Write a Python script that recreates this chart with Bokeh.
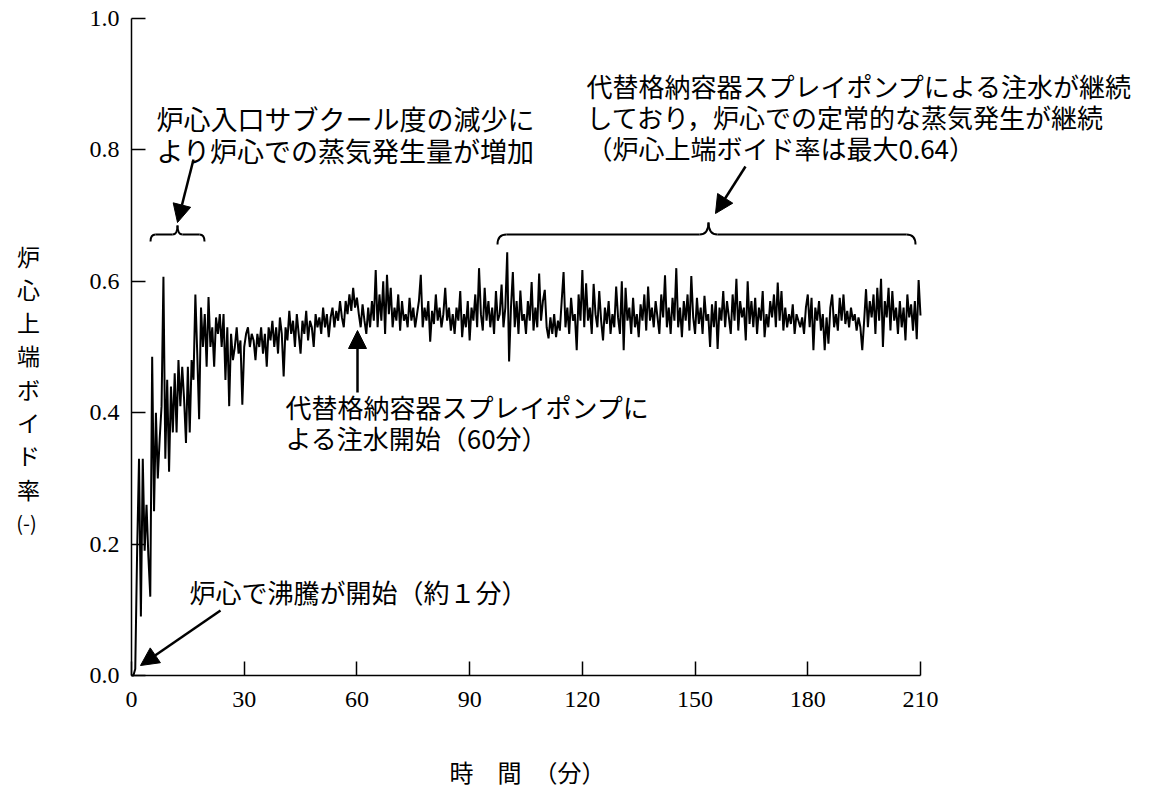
from bokeh.plotting import figure
from bokeh.models import Range1d, FixedTicker, PrintfTickFormatter, Label, Arrow, NormalHead
from bokeh.embed import file_html
from bokeh.resources import INLINE

# ---------------- data ----------------
step_min = 0.5
void_0_30 = [0.0, 0.0, 0.01, 0.19, 0.33, 0.09, 0.33, 0.19, 0.26, 0.18,
             0.12, 0.485, 0.25, 0.40, 0.30, 0.36, 0.41, 0.607, 0.33, 0.45,
             0.31, 0.44, 0.37, 0.46, 0.37, 0.48, 0.41, 0.47, 0.42, 0.354,
             0.47, 0.37, 0.48, 0.45, 0.58, 0.49, 0.39, 0.56, 0.50, 0.55,
             0.47, 0.576, 0.50, 0.53, 0.47, 0.545, 0.52, 0.55, 0.50, 0.55,
             0.45, 0.53, 0.41, 0.52, 0.48, 0.50, 0.53, 0.49, 0.51, 0.412,
             0.50]
void_30_60 = [0.52, 0.53, 0.50, 0.52, 0.51, 0.48, 0.52, 0.50, 0.53, 0.49,
              0.52, 0.47, 0.53, 0.51, 0.54, 0.50, 0.53, 0.49, 0.545, 0.52,
              0.455, 0.53, 0.51, 0.555, 0.52, 0.54, 0.50, 0.55, 0.52, 0.49,
              0.54, 0.52, 0.555, 0.51, 0.54, 0.53, 0.50, 0.55, 0.53, 0.545,
              0.52, 0.56, 0.53, 0.55, 0.515, 0.545, 0.56, 0.53, 0.555, 0.54,
              0.57, 0.545, 0.53, 0.57, 0.55, 0.58, 0.555, 0.59, 0.56, 0.575]
void_60_100 = [0.55, 0.53, 0.565, 0.54, 0.52, 0.56, 0.53, 0.57, 0.54, 0.617,
               0.53, 0.58, 0.54, 0.60, 0.52, 0.61, 0.55, 0.59, 0.53, 0.56,
               0.54, 0.58, 0.525, 0.57, 0.54, 0.55, 0.53, 0.575, 0.54, 0.56,
               0.53, 0.55, 0.57, 0.61, 0.53, 0.56, 0.54, 0.57, 0.508, 0.555,
               0.535, 0.58, 0.54, 0.56, 0.53, 0.55, 0.59, 0.54, 0.56, 0.525,
               0.55, 0.52, 0.56, 0.54, 0.585, 0.515, 0.55, 0.53, 0.57, 0.51,
               0.56, 0.54, 0.58, 0.53, 0.62, 0.55, 0.525, 0.59, 0.54, 0.57,
               0.53, 0.56, 0.52, 0.585, 0.54, 0.55, 0.595, 0.53, 0.56, 0.644]
void_100_150 = [0.478, 0.56, 0.614, 0.53, 0.57, 0.52, 0.586, 0.54, 0.55, 0.52,
                0.57, 0.54, 0.599, 0.525, 0.56, 0.53, 0.612, 0.54, 0.57, 0.587,
                0.53, 0.513, 0.545, 0.52, 0.55, 0.515, 0.54, 0.525, 0.57, 0.614,
                0.53, 0.56, 0.52, 0.575, 0.54, 0.55, 0.495, 0.58, 0.54, 0.617,
                0.53, 0.597, 0.54, 0.56, 0.52, 0.596, 0.55, 0.53, 0.585, 0.54,
                0.51, 0.56, 0.535, 0.57, 0.52, 0.55, 0.53, 0.592, 0.545, 0.52,
                0.60, 0.495, 0.59, 0.54, 0.56, 0.52, 0.575, 0.53, 0.55, 0.515,
                0.565, 0.54, 0.58, 0.525, 0.592, 0.54, 0.56, 0.53, 0.57, 0.545,
                0.52, 0.58, 0.545, 0.609, 0.53, 0.56, 0.52, 0.575, 0.54, 0.62,
                0.53, 0.56, 0.515, 0.57, 0.54, 0.58, 0.525, 0.608, 0.545, 0.52]
void_150_210 = [0.575, 0.535, 0.56, 0.52, 0.578, 0.54, 0.55, 0.50, 0.565, 0.53,
                0.57, 0.497, 0.56, 0.54, 0.585, 0.53, 0.57, 0.545, 0.52, 0.58,
                0.54, 0.604, 0.525, 0.57, 0.545, 0.56, 0.51, 0.60, 0.535, 0.57,
                0.53, 0.575, 0.52, 0.56, 0.54, 0.585, 0.515, 0.55, 0.53, 0.57,
                0.545, 0.58, 0.53, 0.598, 0.54, 0.585, 0.525, 0.56, 0.53, 0.55,
                0.535, 0.565, 0.52, 0.55, 0.54, 0.53, 0.545, 0.52, 0.56, 0.58,
                0.53, 0.575, 0.495, 0.56, 0.54, 0.57, 0.525, 0.55, 0.495, 0.545,
                0.505, 0.56, 0.58, 0.53, 0.55, 0.525, 0.575, 0.54, 0.58, 0.535,
                0.555, 0.53, 0.56, 0.54, 0.55, 0.525, 0.545, 0.53, 0.495, 0.54,
                0.588, 0.53, 0.57, 0.545, 0.58, 0.52, 0.59, 0.54, 0.604, 0.50,
                0.57, 0.545, 0.59, 0.525, 0.585, 0.54, 0.56, 0.52, 0.57, 0.53,
                0.56, 0.51, 0.58, 0.545, 0.565, 0.525, 0.57, 0.512, 0.602, 0.548]

void_fraction = void_0_30 + void_30_60 + void_60_100 + void_100_150 + void_150_210
time_min = [i * step_min for i in range(len(void_fraction))]

x_ticks = [0, 30, 60, 90, 120, 150, 180, 210]
y_ticks = [0.0, 0.2, 0.4, 0.6, 0.8, 1.0]

x_label = "時　間　（分）"
y_label_chars = ["炉", "心", "上", "端", "ボ", "イ", "ド", "率"]
y_unit = "(-)"
note_boil = "炉心で沸騰が開始（約１分）"
note_subcool = ["炉心入口サブクール度の減少に", "より炉心での蒸気発生量が増加"]
note_spray_start = ["代替格納容器スプレイポンプに", "よる注水開始（60分）"]
note_steady = ["代替格納容器スプレイポンプによる注水が継続",
               "しており，炉心での定常的な蒸気発生が継続",
               "（炉心上端ボイド率は最大0.64）"]

# ---------------- layout ----------------
JP = "Noto Sans CJK JP"
NUM = "Liberation Serif"
W, H = 1150, 789
AX_LEFT, AX_BOTTOM = 131, 675          # pixel position of (0, 0)
PX_PER_MIN = 789 / 210
PX_PER_UNIT = 657


def dx(px):
    return (px - AX_LEFT) / PX_PER_MIN


def dy(py):
    return (AX_BOTTOM - py) / PX_PER_UNIT


p = figure(frame_width=W, frame_height=H, title=None,
           min_border_left=0, min_border_right=0,
           min_border_top=0, min_border_bottom=0,
           x_range=Range1d(dx(0), dx(W)), y_range=Range1d(dy(H), dy(0)),
           output_backend="svg", toolbar_location=None)
p.outline_line_color = None
p.xgrid.visible = False
p.ygrid.visible = False
p.background_fill_color = "white"
p.border_fill_color = "white"

for ax in (p.xaxis[0], p.yaxis[0]):
    ax.fixed_location = 0
    ax.axis_line_color = "black"
    ax.axis_line_width = 1.5
    ax.major_tick_line_color = "black"
    ax.major_tick_line_width = 1.5
    ax.major_tick_in = 14
    ax.major_tick_out = 0
    ax.minor_tick_line_color = None
    ax.major_label_text_font = NUM
    ax.major_label_text_font_size = "24px"
    ax.major_label_text_color = "black"

p.xaxis.bounds = (0, 210)
p.yaxis.bounds = (0, 1)
p.xaxis.ticker = FixedTicker(ticks=x_ticks)
p.yaxis.ticker = FixedTicker(ticks=y_ticks)
p.yaxis.formatter = PrintfTickFormatter(format="%.1f")
p.xaxis.major_label_standoff = 16
p.yaxis.major_label_standoff = 12

# main trace
p.line(time_min, void_fraction, line_color="black", line_width=2)


def add_text(text, px, py, size="26px", align="left", font=JP, baseline="middle",
             line_height=1.2):
    p.add_layout(Label(x=dx(px), y=dy(py), text=text, text_font=font,
                       text_font_size=size, text_align=align,
                       text_baseline=baseline, text_line_height=line_height,
                       text_color="black"))


# axis titles
add_text(x_label, 527, 771, size="24px", align="center")
add_text("\n".join(y_label_chars), 28, 238, size="23px", align="center",
         baseline="top", line_height=0.98)
add_text(y_unit, 26, 522, size="20px", align="center")

# annotations
add_text(note_boil, 189, 591)
for line, yy in zip(note_subcool, [118, 150]):
    add_text(line, 156, yy, size="27px")
for line, yy in zip(note_spray_start, [406, 437]):
    add_text(line, 285, yy)
for line, yy in zip(note_steady, [85, 116, 147]):
    add_text(line, 586, yy)


def add_arrow(tail, tip):
    p.add_layout(Arrow(end=NormalHead(size=18, fill_color="black", line_color="black",
                                      line_width=1),
                       x_start=dx(tail[0]), y_start=dy(tail[1]),
                       x_end=dx(tip[0]), y_end=dy(tip[1]),
                       line_color="black", line_width=2.5))


add_arrow((220, 610), (140, 665))
add_arrow((193, 159), (177, 222))
add_arrow((745, 166), (715, 213))
add_arrow((357, 392), (357, 330))


def add_brace(x0, x1, xm, y_base, y_end, y_peak, r):
    qx0 = [dx(x0), dx(xm - r), dx(xm), dx(x1 - r)]
    qy0 = [dy(y_end), dy(y_base), dy(y_peak), dy(y_base)]
    qx1 = [dx(x0 + r), dx(xm), dx(xm + r), dx(x1)]
    qy1 = [dy(y_base), dy(y_peak), dy(y_base), dy(y_end)]
    cx = [dx(x0), dx(xm), dx(xm), dx(x1)]
    cy = [dy(y_base)] * 4
    p.quadratic(x0=qx0, y0=qy0, x1=qx1, y1=qy1, cx=cx, cy=cy,
                line_color="black", line_width=2)
    p.segment(x0=[dx(x0 + r), dx(xm + r)], y0=[dy(y_base)] * 2,
              x1=[dx(xm - r), dx(x1 - r)], y1=[dy(y_base)] * 2,
              line_color="black", line_width=2)


add_brace(150, 204, 177, 234, 241, 225, 5)
add_brace(497, 915, 708, 234, 244, 222, 9)

open("out.html", "w").write(file_html(p, INLINE))
